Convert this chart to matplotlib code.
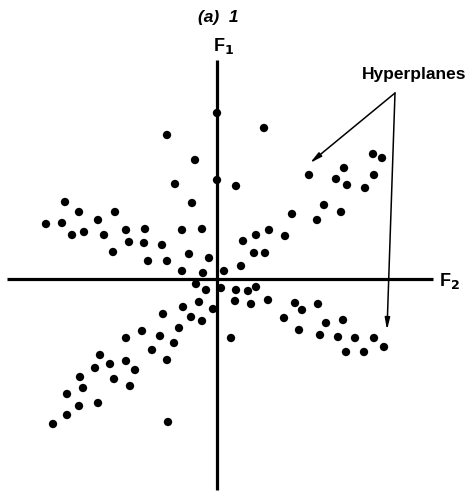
import matplotlib
matplotlib.use("Agg")
import matplotlib.pyplot as plt

# Data: F2 (horizontal) and F1 (vertical) feature values, origin at axis crossing
f2_values = [0, -50, -22, 0, -42, 19, 47, -152, -25, -138, -102, -119, -171, -155,
             -145, -133, -113, -91, -72, -35, -15, -88, -73, -55, -104, -69, -50,
             -28, -8, -35, -14, 7,
             92, 127, 119, 130, 156, 165, 157, 148, 107, 75, 100, 124, 26, 39, 52,
             68, 37, 48, 24,
             -21, -11, 4, -18, -34, -4, -54, -26, -15, -38, -75, -91, -57, 14, -43,
             -65, -117, -91, -107, -50, -122, -82, -137, -103, -134, -87, -150,
             -138, -119, -150, -164, -49,
             19, 18, 31, 39, 34, 51, 78, 101, 85, 67, 109, 126, 82, 103, 121, 138,
             157, 167, 129, 147]
f1_values = [166, 144, 119, 99, 95, 93, 151, 77, 76, 67, 67, 59, 55, 56,
             44, 47, 44, 49, 50, 49, 50, 37, 36, 34, 27, 18, 18,
             25, 21, 8, 6, 8,
             104, 111, 100, 94, 125, 121, 104, 91, 74, 65, 59, 67, 38, 44, 49,
             43, 26, 26, 13,
             -5, -11, -9, -23, -28, -30, -35, -38, -42, -49, -52, -59, -57, -59, -64,
             -71, -76, -82, -85, -81, -89, -91, -98, -100, -109, -107, -115,
             -127, -124, -136, -145, -143,
             -11, -22, -12, -8, -25, -21, -24, -25, -31, -39, -44, -41, -51, -56, -58,
             -59, -59, -68, -73, -73]

# Annotation geometry
apex = (178, 186)
hyper_tips = [(93, 116), (170, -51)]
x_axis_range = (-210, 216)
y_axis_range = (-211, 219)

fig = plt.figure(figsize=(4.72, 4.91), dpi=100)
ax = fig.add_axes([0, 0, 1, 1])
ax.set_xlim(-217, 255)
ax.set_ylim(-212, 279)
ax.axis("off")

font = "Liberation Sans"

# axes lines
ax.plot(x_axis_range, [0, 0], color="black", lw=2.3, solid_capstyle="butt", zorder=1)
ax.plot([0, 0], y_axis_range, color="black", lw=2.3, solid_capstyle="butt", zorder=1)

# points
ax.scatter(f2_values, f1_values, s=36, color="black", edgecolors="none", zorder=3)

# hyperplane arrows
for tip in hyper_tips:
    ax.annotate("", xy=tip, xytext=apex,
                arrowprops=dict(arrowstyle="-|>,head_length=0.7,head_width=0.15",
                                color="black", lw=1.1, shrinkA=0, shrinkB=0))

ax.text(197, 205, "Hyperplanes", ha="center", va="center", fontsize=12.5,
        fontweight="bold", family=font)
ax.text(1, 262, "(a)  1", ha="center", va="center", fontsize=12.5,
        fontweight="bold", fontstyle="italic", family=font)
ax.text(-4, 233, r"F$_\mathbf{1}$", ha="left", va="center", fontsize=13,
        fontweight="bold", family=font)
ax.text(222, -2, r"F$_\mathbf{2}$", ha="left", va="center", fontsize=13,
        fontweight="bold", family=font)

fig.savefig("out.png", dpi=100)
